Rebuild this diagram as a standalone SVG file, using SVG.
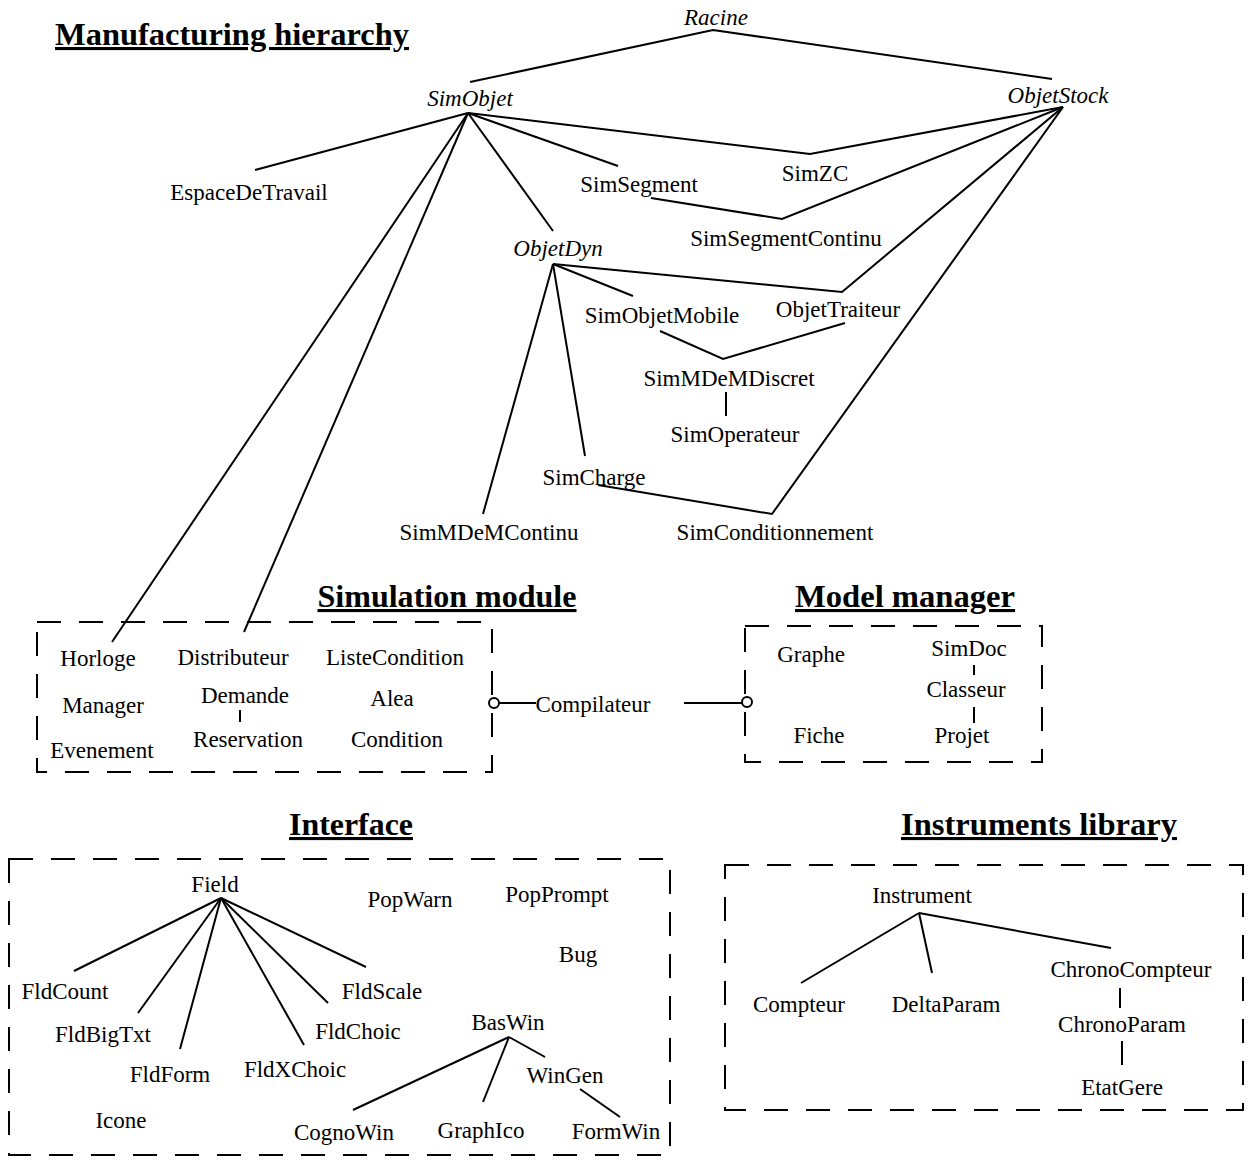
<svg xmlns="http://www.w3.org/2000/svg" width="1248" height="1164" viewBox="0 0 1248 1164">
<style>
text{font-family:"Liberation Serif","Times New Roman",serif;font-size:23px;fill:#000;text-anchor:middle}
.i{font-style:italic;font-size:23px}
.t{font-weight:bold;font-size:31px;text-decoration:underline}
.c line,.c polyline{stroke:#000;stroke-width:2;fill:none}
.box{fill:none;stroke:#000;stroke-width:2;stroke-dasharray:24 18}
</style>
<rect width="1248" height="1164" fill="#fff"/>
<g id="titles">
<text class="t" x="232" y="45" textLength="354" lengthAdjust="spacingAndGlyphs">Manufacturing hierarchy</text>
<text class="t" x="447" y="607" textLength="259" lengthAdjust="spacingAndGlyphs">Simulation module</text>
<text class="t" x="905" y="607" textLength="220" lengthAdjust="spacingAndGlyphs">Model manager</text>
<text class="t" x="351" y="835" textLength="124" lengthAdjust="spacingAndGlyphs">Interface</text>
<text class="t" x="1039" y="835" textLength="276" lengthAdjust="spacingAndGlyphs">Instruments library</text>
</g>
<g id="frames">
<rect class="box" x="37" y="622" width="455" height="150"/>
<rect class="box" x="745" y="626" width="297" height="136"/>
<rect class="box" x="9" y="859" width="661" height="296"/>
<rect class="box" x="725" y="865" width="518" height="245"/>
</g>
<g id="connectors" class="c">
<polyline points="470,82 713,30 1052,79"/>
<line x1="468" y1="113" x2="255" y2="170"/>
<line x1="468" y1="113" x2="112" y2="642"/>
<line x1="468" y1="113" x2="244" y2="632"/>
<line x1="468" y1="113" x2="553" y2="231"/>
<line x1="468" y1="113" x2="618" y2="166"/>
<polyline points="468,113 810,154 1063,107"/>
<polyline points="651,198 782,219 1063,107"/>
<polyline points="553,264 842,292 1063,107"/>
<polyline points="598,485 772,514 1063,107"/>
<line x1="553" y1="264" x2="633" y2="296"/>
<line x1="553" y1="264" x2="483" y2="514"/>
<line x1="553" y1="264" x2="585" y2="456"/>
<polyline points="660,331 723,359 845,323"/>
<line x1="726" y1="392" x2="726" y2="416"/>
<line x1="240" y1="710" x2="240" y2="722"/>
<line x1="500" y1="703" x2="536" y2="703"/>
<circle cx="494" cy="703" r="5" stroke="#000" stroke-width="2" fill="#fff"/>
<line x1="684" y1="703" x2="742" y2="703"/>
<circle cx="747" cy="702" r="5" stroke="#000" stroke-width="2" fill="#fff"/>
<line x1="974" y1="665" x2="974" y2="675"/>
<line x1="974" y1="707" x2="974" y2="723"/>
<line x1="221" y1="898" x2="74" y2="971"/>
<line x1="221" y1="898" x2="138" y2="1013"/>
<line x1="221" y1="898" x2="180" y2="1049"/>
<line x1="221" y1="898" x2="304" y2="1045"/>
<line x1="221" y1="898" x2="328" y2="1003"/>
<line x1="221" y1="898" x2="366" y2="967"/>
<line x1="509" y1="1037" x2="353" y2="1110"/>
<line x1="509" y1="1037" x2="483" y2="1102"/>
<line x1="509" y1="1037" x2="545" y2="1057"/>
<line x1="580" y1="1089" x2="620" y2="1117"/>
<line x1="919" y1="913" x2="801" y2="983"/>
<line x1="919" y1="913" x2="932" y2="973"/>
<line x1="919" y1="913" x2="1111" y2="948"/>
<line x1="1120" y1="988" x2="1120" y2="1008"/>
<line x1="1122" y1="1041" x2="1122" y2="1065"/>
</g>
<g id="n-racine"><text class="i" x="716" y="25">Racine</text></g>
<g id="n-simobjet"><text class="i" x="470" y="106">SimObjet</text></g>
<g id="n-objetstock"><text class="i" x="1058" y="103">ObjetStock</text></g>
<g id="n-espacedetravail"><text x="249" y="200">EspaceDeTravail</text></g>
<g id="n-simsegment"><text x="639" y="192">SimSegment</text></g>
<g id="n-simzc"><text x="815" y="181">SimZC</text></g>
<g id="n-simsegmentcontinu"><text x="786" y="246">SimSegmentContinu</text></g>
<g id="n-objetdyn"><text class="i" x="558" y="256">ObjetDyn</text></g>
<g id="n-simobjetmobile"><text x="662" y="323">SimObjetMobile</text></g>
<g id="n-objettraiteur"><text x="838" y="317">ObjetTraiteur</text></g>
<g id="n-simmdemdiscret"><text x="729" y="386">SimMDeMDiscret</text></g>
<g id="n-simoperateur"><text x="735" y="442">SimOperateur</text></g>
<g id="n-simcharge"><text x="594" y="485">SimCharge</text></g>
<g id="n-simmdemcontinu"><text x="489" y="540">SimMDeMContinu</text></g>
<g id="n-simconditionnement"><text x="775" y="540">SimConditionnement</text></g>
<g id="n-horloge"><text x="98" y="666">Horloge</text></g>
<g id="n-distributeur"><text x="233" y="665">Distributeur</text></g>
<g id="n-listecondition"><text x="395" y="665">ListeCondition</text></g>
<g id="n-manager"><text x="103" y="713">Manager</text></g>
<g id="n-demande"><text x="245" y="703">Demande</text></g>
<g id="n-alea"><text x="392" y="706">Alea</text></g>
<g id="n-evenement"><text x="102" y="758">Evenement</text></g>
<g id="n-reservation"><text x="248" y="747">Reservation</text></g>
<g id="n-condition"><text x="397" y="747">Condition</text></g>
<g id="n-compilateur"><text x="593" y="712">Compilateur</text></g>
<g id="n-graphe"><text x="811" y="662">Graphe</text></g>
<g id="n-simdoc"><text x="969" y="656">SimDoc</text></g>
<g id="n-classeur"><text x="966" y="697">Classeur</text></g>
<g id="n-fiche"><text x="819" y="743">Fiche</text></g>
<g id="n-projet"><text x="962" y="743">Projet</text></g>
<g id="n-field"><text x="215" y="892">Field</text></g>
<g id="n-popwarn"><text x="410" y="907">PopWarn</text></g>
<g id="n-popprompt"><text x="557" y="902">PopPrompt</text></g>
<g id="n-bug"><text x="578" y="962">Bug</text></g>
<g id="n-fldcount"><text x="65" y="999">FldCount</text></g>
<g id="n-fldbigtxt"><text x="103" y="1042">FldBigTxt</text></g>
<g id="n-fldform"><text x="170" y="1082">FldForm</text></g>
<g id="n-fldxchoic"><text x="295" y="1077">FldXChoic</text></g>
<g id="n-fldchoic"><text x="358" y="1039">FldChoic</text></g>
<g id="n-fldscale"><text x="382" y="999">FldScale</text></g>
<g id="n-baswin"><text x="508" y="1030">BasWin</text></g>
<g id="n-wingen"><text x="565" y="1083">WinGen</text></g>
<g id="n-icone"><text x="121" y="1128">Icone</text></g>
<g id="n-cognowin"><text x="344" y="1140">CognoWin</text></g>
<g id="n-graphico"><text x="481" y="1138">GraphIco</text></g>
<g id="n-formwin"><text x="616" y="1139">FormWin</text></g>
<g id="n-instrument"><text x="922" y="903">Instrument</text></g>
<g id="n-compteur"><text x="799" y="1012">Compteur</text></g>
<g id="n-deltaparam"><text x="946" y="1012">DeltaParam</text></g>
<g id="n-chronocompteur"><text x="1131" y="977">ChronoCompteur</text></g>
<g id="n-chronoparam"><text x="1122" y="1032">ChronoParam</text></g>
<g id="n-etatgere"><text x="1122" y="1095">EtatGere</text></g>
</svg>
